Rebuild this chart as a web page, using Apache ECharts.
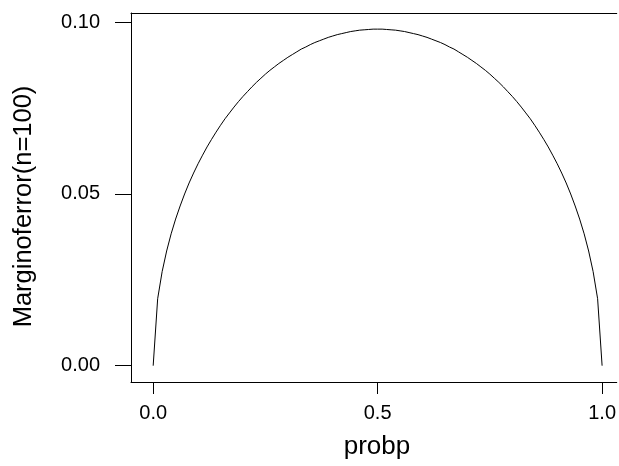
<!DOCTYPE html>
<html>
<head>
<meta charset="utf-8">
<script src="https://cdn.jsdelivr.net/npm/echarts@6/dist/echarts.min.js"></script>
<style>html,body{margin:0;padding:0;background:#fff;}#c{width:619px;height:466px;}</style>
</head>
<body>
<div id="c"></div>
<script>
// Probability p (x values)
var probp = [0.00,0.01,0.02,0.03,0.04,0.05,0.06,0.07,0.08,0.09,0.10,0.11,0.12,0.13,0.14,0.15,0.16,0.17,0.18,0.19,0.20,0.21,0.22,0.23,0.24,0.25,0.26,0.27,0.28,0.29,0.30,0.31,0.32,0.33,0.34,0.35,0.36,0.37,0.38,0.39,0.40,0.41,0.42,0.43,0.44,0.45,0.46,0.47,0.48,0.49,0.50,0.51,0.52,0.53,0.54,0.55,0.56,0.57,0.58,0.59,0.60,0.61,0.62,0.63,0.64,0.65,0.66,0.67,0.68,0.69,0.70,0.71,0.72,0.73,0.74,0.75,0.76,0.77,0.78,0.79,0.80,0.81,0.82,0.83,0.84,0.85,0.86,0.87,0.88,0.89,0.90,0.91,0.92,0.93,0.94,0.95,0.96,0.97,0.98,0.99,1.00];
// Margin of error (n=100)
var marginError = [0.0000,0.0195,0.0274,0.0334,0.0384,0.0427,0.0465,0.0500,0.0532,0.0561,0.0588,0.0613,0.0637,0.0659,0.0680,0.0700,0.0719,0.0736,0.0753,0.0769,0.0784,0.0798,0.0812,0.0825,0.0837,0.0849,0.0860,0.0870,0.0880,0.0889,0.0898,0.0906,0.0914,0.0922,0.0928,0.0935,0.0941,0.0946,0.0951,0.0956,0.0960,0.0964,0.0967,0.0970,0.0973,0.0975,0.0977,0.0978,0.0979,0.0980,0.0980,0.0980,0.0979,0.0978,0.0977,0.0975,0.0973,0.0970,0.0967,0.0964,0.0960,0.0956,0.0951,0.0946,0.0941,0.0935,0.0928,0.0922,0.0914,0.0906,0.0898,0.0889,0.0880,0.0870,0.0860,0.0849,0.0837,0.0825,0.0812,0.0798,0.0784,0.0769,0.0753,0.0736,0.0719,0.0700,0.0680,0.0659,0.0637,0.0613,0.0588,0.0561,0.0532,0.0500,0.0465,0.0427,0.0384,0.0334,0.0274,0.0195,0.0000];
var xTicks = [0, 0.5, 1];
var yTicks = [0, 0.05, 0.1];
var xLabel = 'probp';
var yLabel = 'Marginoferror(n=100)';

var pts = probp.map(function (p, i) { return [p, marginError[i]]; });
var font = 'Liberation Sans, Arial, sans-serif';

var chart = echarts.init(document.getElementById('c'), null, {renderer: 'canvas'});
chart.setOption({
  animation: false,
  backgroundColor: '#ffffff',
  grid: {left: 131, top: 13, right: 0, bottom: 84, show: false},
  xAxis: [{
    type: 'value', min: -0.0494, max: 1.0326, position: 'bottom',
    axisLine: {show: true, onZero: false, lineStyle: {color: '#000', width: 1}},
    axisTick: {show: true, inside: false, length: 12, customValues: xTicks, lineStyle: {color: '#000', width: 1}},
    axisLabel: {show: true, customValues: xTicks, margin: 21, fontSize: 20, fontFamily: font, color: '#000',
      formatter: function (v) { return v.toFixed(1); }},
    splitLine: {show: false}
  }, {
    type: 'value', min: -0.0494, max: 1.0326, position: 'top',
    axisLine: {show: true, onZero: false, lineStyle: {color: '#000', width: 1}},
    axisTick: {show: false}, axisLabel: {show: false}, splitLine: {show: false}
  }],
  yAxis: {
    type: 'value', min: -0.00475, max: 0.1027,
    axisLine: {show: true, onZero: false, lineStyle: {color: '#000', width: 1}},
    axisTick: {show: true, inside: false, length: 16, customValues: yTicks, lineStyle: {color: '#000', width: 1}},
    axisLabel: {show: true, customValues: yTicks, margin: 31, fontSize: 20, fontFamily: font, color: '#000',
      formatter: function (v) { return v.toFixed(2); }},
    splitLine: {show: false}
  },
  series: [{
    type: 'line', data: pts, xAxisIndex: 0, yAxisIndex: 0,
    showSymbol: false, symbol: 'none', smooth: false,
    lineStyle: {color: '#000', width: 1}
  }],
  graphic: [{
    type: 'text', x: 377, y: 447,
    style: {text: xLabel, fontSize: 26, fontFamily: font, fill: '#000', align: 'center', verticalAlign: 'middle'}
  }, {
    type: 'text', x: 24, y: 206.5, rotation: Math.PI / 2,
    style: {text: yLabel, fontSize: 25.5, fontFamily: font, fill: '#000', align: 'center', verticalAlign: 'middle'}
  }]
});
</script>
</body>
</html>
